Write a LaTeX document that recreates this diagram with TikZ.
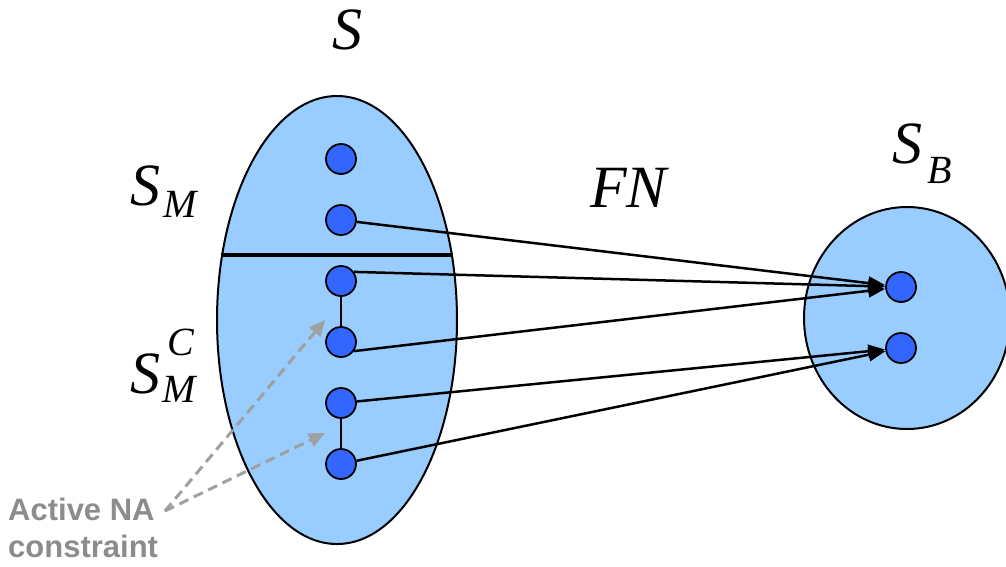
\documentclass[tikz,border=0pt]{standalone}
\usepackage{fontspec}
\setmainfont{Liberation Serif}
\newfontfamily\sansf{Liberation Sans}
\usetikzlibrary{arrows.meta,shapes.geometric}
\definecolor{setfill}{HTML}{99CCFF}
\definecolor{dotfill}{HTML}{3366FF}
\definecolor{notegray}{HTML}{8C8C8C}
\definecolor{dashgray}{HTML}{A0A0A0}
\tikzset{
  setshape/.style={ellipse, draw, line width=2pt, fill=setfill, inner sep=0pt, outer sep=0pt},
  dot/.style={circle, draw, line width=1.8pt, fill=dotfill, minimum size=30pt, inner sep=0pt},
  mapto/.style={-{Triangle[length=17pt,width=13pt]}, line width=2.5pt},
  link/.style={line width=1.6pt},
  hint/.style={dashgray, dash pattern=on 10pt off 6pt, line width=3pt, -{Triangle[length=16pt,width=14pt]}},
  lab/.style={inner sep=0pt, font=\fontsize{60}{60}\selectfont\itshape},
  note/.style={inner sep=0pt, align=left, text=notegray, font=\fontsize{31}{37}\selectfont\sansf\bfseries},
}
\newcommand{\subsz}{\fontsize{40}{40}\selectfont}
\begin{document}
\begin{tikzpicture}[x=1pt,y=-1pt]
\useasboundingbox (0,0) rectangle (1006,566);
\clip (0,0) rectangle (1006,566);
% sets
\node[setshape, minimum width=240pt, minimum height=448pt] (S) at (337,320) {};
\node[setshape, minimum width=206pt, minimum height=222pt] (SB) at (907,318) {};
% separator
\coordinate (sepl) at (221,255);
\coordinate (sepr) at (453,255);
\draw[line width=4pt] (sepl) -- (sepr);
% dots
\node[dot] (d1) at (341,159) {};
\node[dot] (d2) at (341,220) {};
\node[dot] (d3) at (341,281) {};
\node[dot] (d4) at (341,342) {};
\node[dot] (d5) at (341,403) {};
\node[dot] (d6) at (341,464) {};
\node[dot] (b1) at (901,287) {};
\node[dot] (b2) at (901,348) {};
% links
\draw[link] (d3) -- (d4);
\draw[link] (d5) -- (d6);
% mappings
\draw[mapto] (d2) -- (b1);
\draw[mapto] (d3.35) -- (b1);
\draw[mapto] (d4.-35) -- (b1);
\draw[mapto] (d5) -- (b2);
\draw[mapto] (d6) -- (b2);
% labels
\node[lab, anchor=base] (lS) at (347,49) {S};
\node[lab, anchor=base west] (lSM) at (130,205) {S\hspace{3pt}\raisebox{-12pt}{\subsz M}};
\node[lab, anchor=base west] (lSMC) at (130,393) {S\hspace{2pt}\rlap{\raisebox{38pt}{\subsz\hspace{5pt}C}}\raisebox{-9pt}{\subsz M}};
\node[lab, anchor=base west] (lFN) at (590,207) {FN};
\node[lab, anchor=base west] (lSB) at (892,163) {S\hspace{5pt}\raisebox{-20pt}{\subsz B}};
% note
\node[note, anchor=base west] (na) at (8,557) {Active NA\\constraint};
\coordinate (nae) at (165,511);
\coordinate (t1) at (325,320);
\coordinate (t2) at (325,433);
\draw[hint] (nae) -- (t1);
\draw[hint] (nae) -- (t2);
\end{tikzpicture}
\end{document}
